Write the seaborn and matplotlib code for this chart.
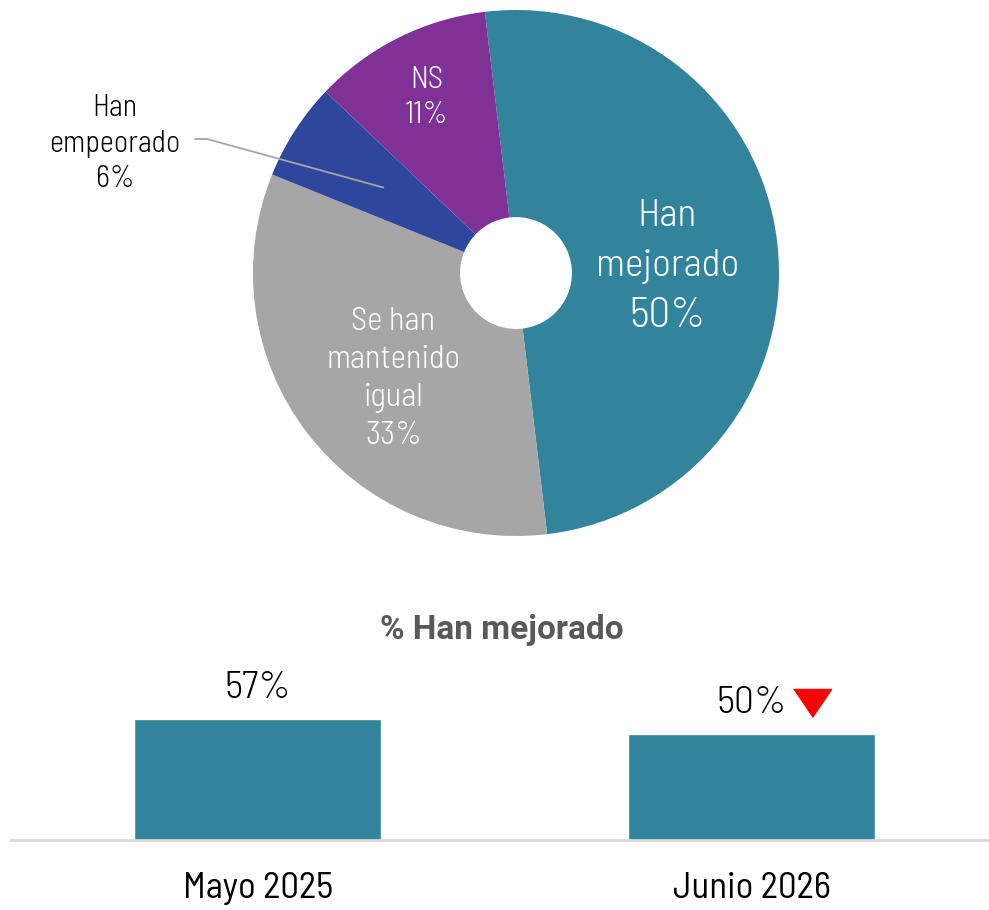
import numpy as np
import matplotlib.pyplot as plt
import seaborn as sns
from matplotlib.transforms import offset_copy

# donut data
segment_labels = ['Han\nmejorado', 'Se han\nmantenido\nigual', 'Han\nempeorado', 'NS']
segment_values = [50, 33, 6, 11]
segment_colors = ['#31849B', '#A6A6A6', '#2E479D', '#7F3196']

# trend bars
periods = ['Mayo 2025', 'Junio 2026']
mejorado_pct = [57, 50]

sns.set_theme(style='white')
plt.rcParams['font.family'] = ['Barlow Semi Condensed', 'DejaVu Sans']
plt.rcParams['font.weight'] = 300

fig = plt.figure(figsize=(9.89, 9.10), dpi=100)
R_PX = 263  # donut radius in pixels

# --- donut ---
ax = fig.add_axes([253 / 989, 374 / 910, 526 / 989, 526 / 910])
start = 96.8
wedges, _ = ax.pie(segment_values, colors=segment_colors, startangle=start,
                   counterclock=False, radius=1,
                   wedgeprops=dict(linewidth=0))
ax.add_patch(plt.Circle((0, 0), 0.21, color='white', zorder=3))
ax.set_xlim(-1, 1)
ax.set_ylim(-1, 1)
ax.set_aspect('equal')
ax.axis('off')

# label radius / font sizes (name, pct) / line gap and nudge in px
label_r = [0.58, 0.61, None, 0.76]
label_size = [(28.5, 31), (23.5, 23.5), (21.7, 21.7), (22, 22)]
line_gap = [50, 38, 35.5, 35]
nudge = [(0, -12), (5, -9), (0, -4), (0, -3)]
for i, w in enumerate(wedges):
    if label_r[i] is None:
        continue
    mid = np.deg2rad((w.theta1 + w.theta2) / 2)
    x = label_r[i] * np.cos(mid) + nudge[i][0] / R_PX
    y = label_r[i] * np.sin(mid) + nudge[i][1] / R_PX
    lines = segment_labels[i].split('\n') + [f'{segment_values[i]}%']
    step = line_gap[i] / R_PX
    for k, line in enumerate(lines):
        fs = label_size[i][1] if k == len(lines) - 1 else label_size[i][0]
        ax.text(x, y + ((len(lines) - 1) / 2 - k) * step, line, ha='center',
                va='center', color='white', fontsize=fs)

# outside label with leader line for "Han empeorado"
w = wedges[2]
mid = np.deg2rad((w.theta1 + w.theta2) / 2)
tip = (0.6 * np.cos(mid), 0.6 * np.sin(mid))
lines = segment_labels[2].split('\n') + [f'{segment_values[2]}%']
for k, line in enumerate(lines):
    ax.text(-1.525, 0.506 + nudge[2][1] / R_PX + (1 - k) * line_gap[2] / R_PX, line,
            ha='center', va='center', fontsize=label_size[2][0], color='black')
ax.plot([-1.2205, -1.175, tip[0]], [0.5095, 0.5095, tip[1]], color='#A6A6A6',
        lw=1.3, clip_on=False, zorder=4)

# --- bars ---
ax2 = fig.add_axes([11 / 989, (910 - 840) / 910, (989 - 11) / 989, 180 / 910])
sns.barplot(x=periods, y=mejorado_pct, color='#31849B', width=0.5,
            saturation=1, ax=ax2)
ax2.set_xlim(-0.5, 1.48)
ax2.set_ylim(0, 180 / 2.13)
for s in ['top', 'right', 'left']:
    ax2.spines[s].set_visible(False)
ax2.spines['bottom'].set_color('#D9D9D9')
ax2.spines['bottom'].set_linewidth(2)
ax2.set_yticks([])
ax2.set_ylabel('')
ax2.tick_params(axis='x', length=0, pad=23, labelsize=26.5, labelcolor='black')
for lbl in ax2.get_xticklabels():
    lbl.set_fontweight(400)
for i, v in enumerate(mejorado_pct):
    ax2.annotate(f'{v}%', xy=(i, v), xytext=(0, 9), textcoords='offset points',
                 ha='center', va='bottom', fontsize=28.5, color='black')

# red down marker next to the last value
tri = [(-1, 0.737), (1, 0.737), (0, -0.737)]
trans = offset_copy(ax2.transData, fig=fig, x=60.5 / 100, y=31 / 100, units='inches')
ax2.plot([len(periods) - 1], [mejorado_pct[-1]], marker=tri, markersize=27.4,
         color='#FF0000', linestyle='none', transform=trans, clip_on=False)

fig.text(502 / 989, 1 - 630 / 910, '% Han mejorado', ha='center', va='center',
         fontsize=24, fontweight='bold', color='#595959',
         family=['Roboto', 'DejaVu Sans'])

fig.savefig('out.png', dpi=100)
